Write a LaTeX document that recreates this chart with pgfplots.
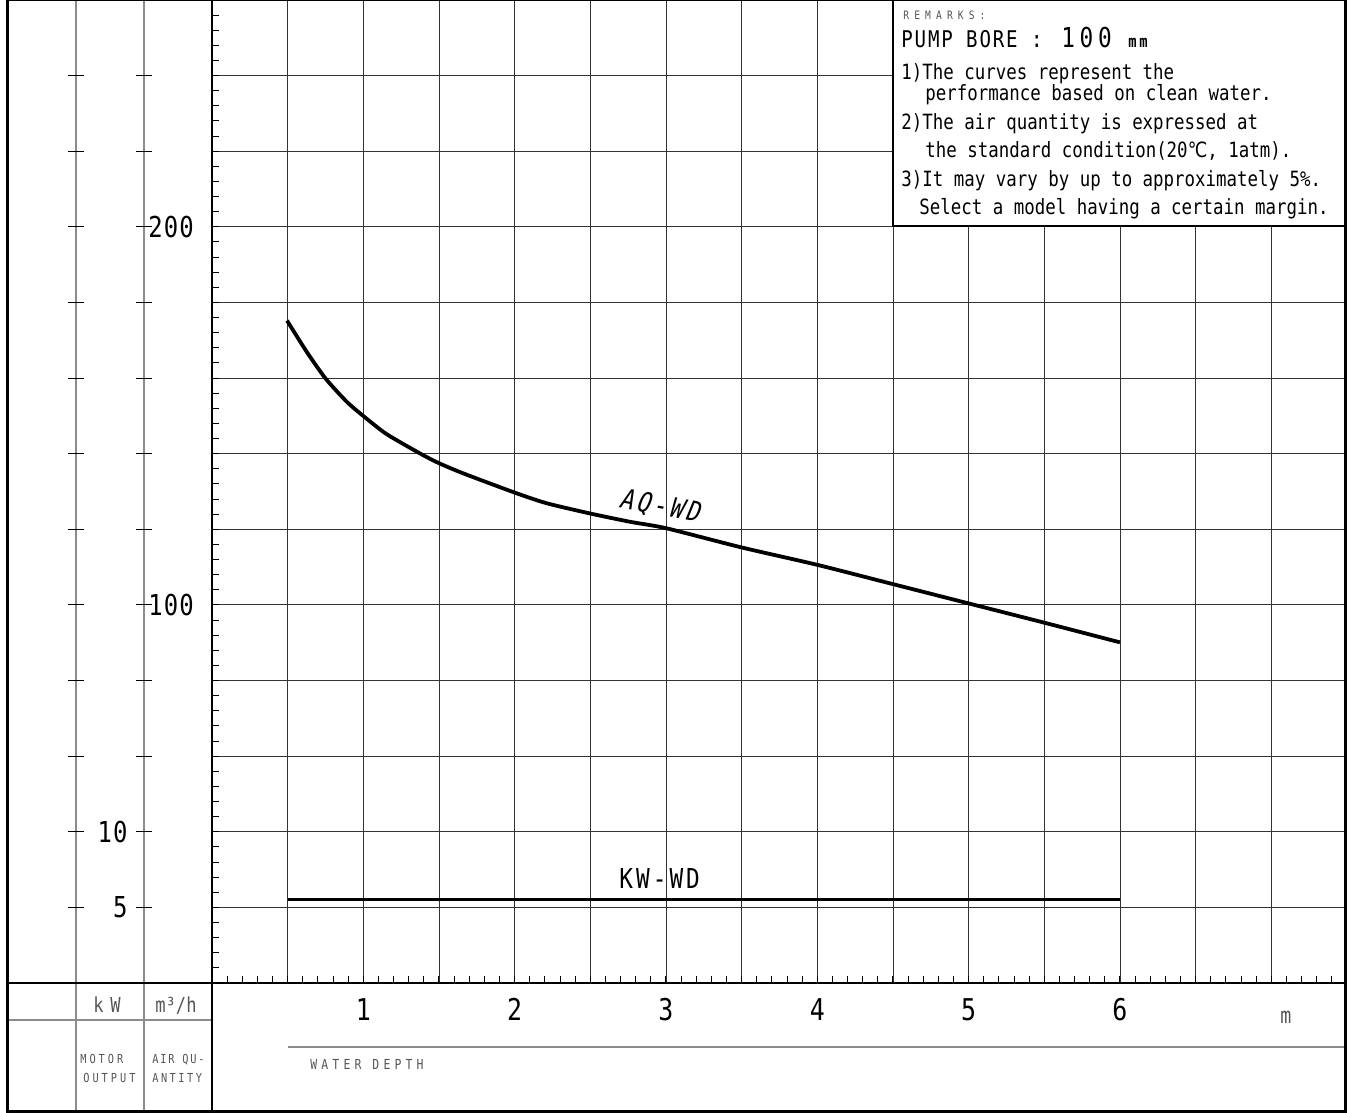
\documentclass[border=0pt]{standalone}
\usepackage{fontspec}
\setmainfont{DejaVu Sans Mono}[FakeStretch=0.83]
\newfontfamily\slfont{DejaVu Sans Mono}[FakeStretch=0.83, FakeSlant=0.2]
\newfontfamily\dvs{DejaVu Sans}[FakeStretch=0.83]
\usepackage{pgfplots}
\pgfplotsset{compat=1.18}
\definecolor{lbl}{HTML}{555555}
\definecolor{col}{HTML}{8C8C8C}
\newcommand\fs[1]{\fontsize{#1}{#1}\selectfont}
\newcommand\ls[1]{\addfontfeature{LetterSpace=#1}}

\begin{document}
\begin{tikzpicture}
% air quantity
\begin{axis}[
  at={(106pt,-491.5pt)}, anchor=south west,
  scale only axis, width=566.5pt, height=491.5pt,
  xmin=0, xmax=7.487, ymin=0, ymax=260,
  axis line style={line width=1.2pt},
  tick pos=left, tick align=inside,
  major tick length=0pt, minor tick length=3.5pt,
  tick style={black, line width=0.5pt},
  xtick={0,0.5,...,7},
  xticklabels={{},{},1,{},2,{},3,{},4,{},5,{},6,{},{}},
  minor xtick={0,0.1,...,7.45},
  ytick={0,20,...,260},
  yticklabels={{},{},{},{},{},100,{},{},{},{},200,{},{},{}},
  minor ytick={0,4,...,260},
  grid=major,
  major grid style={black!80, line width=0.45pt},
  xticklabel style={font=\fs{15}, anchor=base, inner sep=0pt, yshift=-18.5pt},
  yticklabel style={font=\fs{14.4}\ls{4}, anchor=west, inner sep=0pt, xshift=-32pt},
]
\addplot[black, line width=1.9pt, smooth, tension=0.4] coordinates {
  (0.496,175.2) (0.625,167.0) (0.750,159.9) (0.889,153.8) (0.999,150.0)
  (1.153,145.2) (1.373,140.1) (1.494,137.6) (1.660,134.8) (2.001,129.7)
  (2.211,126.9) (2.497,124.2) (2.761,122.0) (3.000,120.3) (3.5,115.2)
  (4.0,110.6) (4.5,105.5) (5.0,100.4) (5.5,95.3) (6.0,90.1)
};
\end{axis}
% motor output
\begin{axis}[
  at={(106pt,-491.5pt)}, anchor=south west,
  scale only axis, width=566.5pt, height=491.5pt,
  xmin=0, xmax=7.487, ymin=0, ymax=65,
  axis line style={draw=none},
  xtick=\empty, ytick={5,10},
  major tick length=0pt, tick style={draw=none},
  yticklabels={5,10},
  yticklabel style={font=\fs{14.4}\ls{4}, anchor=east, inner sep=0pt, xshift=-42pt},
]
\addplot[black, line width=1.6pt] coordinates {(0.5,5.5) (6.0,5.5)};
\end{axis}

\begin{scope}[x=0.5pt, y=-0.5pt]
  % columns on the left
  \draw[col, line width=0.8pt] (76,0) -- (76,1111) (144,0) -- (144,1111);
  \foreach \k in {1,...,12} {
    \draw[black, line width=0.5pt] (68,982.9-75.6*\k) -- (84,982.9-75.6*\k)
      (136,982.9-75.6*\k) -- (152,982.9-75.6*\k);
  }
  \draw[line width=1.2pt] (7,983) -- (212,983);
  \draw[col, line width=0.8pt] (7,1020) -- (212,1020);
  \draw[col, line width=0.8pt] (288,1047) -- (1345,1047);
  \draw[line width=1.2pt] (212,983) -- (212,1111);

  % curve labels
  \node[anchor=base west, inner sep=0pt, rotate=-10.8] at (618,507)
    {\slfont\fs{13.7}\ls{11}AQ-WD};
  \node[anchor=base west, inner sep=0pt] at (619,888) {\fs{13.7}\ls{11}KW-WD};

  % bottom row texts
  \node[anchor=base west, inner sep=0pt, text=lbl] at (93,1012) {\fs{10.3}\ls{33}kW};
  \node[anchor=base west, inner sep=0pt, text=lbl] at (155,1012) {\fs{10.3}m³/h};
  \node[anchor=base west, inner sep=0pt, text=lbl] at (80,1063) {\fs{6.2}\ls{24}MOTOR};
  \node[anchor=base west, inner sep=0pt, text=lbl] at (83,1082) {\fs{6.2}\ls{24}OUTPUT};
  \node[anchor=base west, inner sep=0pt, text=lbl] at (152,1063) {\fs{6.2}\ls{14}AIR QU-};
  \node[anchor=base west, inner sep=0pt, text=lbl] at (152,1082) {\fs{6.2}\ls{20}ANTITY};
  \node[anchor=base west, inner sep=0pt, text=lbl] at (310,1069) {\fs{6.9}\ls{30}WATER DEPTH};
  \node[anchor=base west, inner sep=0pt, text=lbl] at (1280,1023) {\fs{11}m};

  % remarks box
  \draw[fill=white, line width=1pt] (893,-2) rectangle (1345,226);
  \node[anchor=base west, inner sep=0pt, text=lbl] at (903,20) {\fs{5.8}\ls{44}REMARKS:};
  \node[anchor=base west, inner sep=0pt] at (901,48) {\fs{11.5}\ls{8}PUMP BORE :};
  \node[anchor=base west, inner sep=0pt] at (1061,48) {\fs{13.7}\ls{17}100};
  \node[anchor=base west, inner sep=0pt] at (1128,48) {\bfseries\fs{8.3}\ls{16}mm};
  \node[anchor=base west, inner sep=0pt] at (901,80) {\fs{10.5}1)The curves represent the};
  \node[anchor=base west, inner sep=0pt] at (925,100.7) {\fs{10.5}performance based on clean water.};
  \node[anchor=base west, inner sep=0pt] at (901,129.3) {\fs{10.5}2)The air quantity is expressed at};
  \node[anchor=base west, inner sep=0pt] at (925,157.3) {\fs{10.5}the standard condition(20{\dvs ℃}, 1atm).};
  \node[anchor=base west, inner sep=0pt] at (901,186.7) {\fs{10.5}3)It may vary by up to approximately 5\%.};
  \node[anchor=base west, inner sep=0pt] at (919,214.3) {\fs{10.5}Select a model having a certain margin.};

  % outer frame
  \draw[line width=1.5pt] (7,0) rectangle (1345,1111);
  \pgfresetboundingbox
  \useasboundingbox (0,0) rectangle (1350,1113);
\end{scope}
\end{tikzpicture}
\end{document}
